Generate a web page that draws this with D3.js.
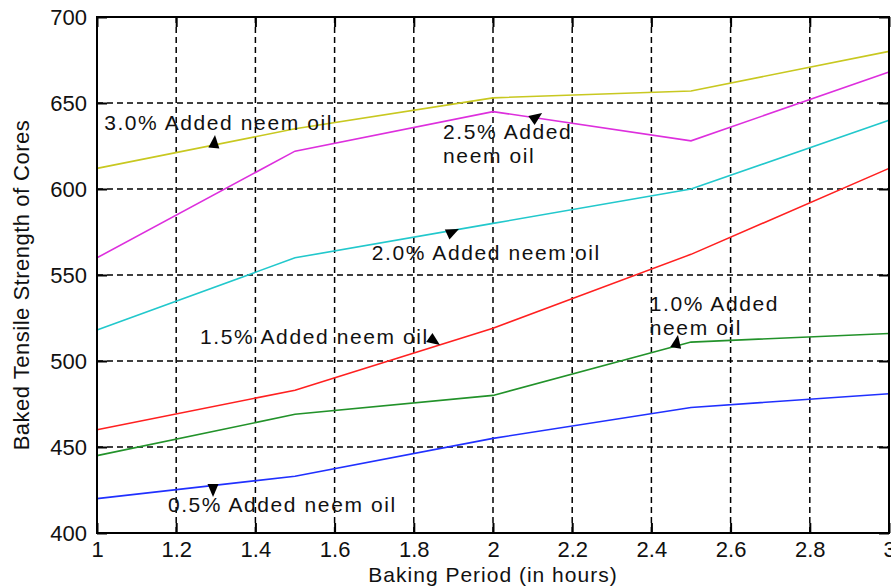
<!DOCTYPE html>
<html>
<head>
<meta charset="utf-8">
<script src="https://d3js.org/d3.v7.min.js"></script>
<style>
  body { margin: 0; background: #fff; }
  text { font-family: "Liberation Sans", Arial, sans-serif; fill: #111; }
</style>
</head>
<body>
<svg width="891" height="588"></svg>
<script>
// baking periods (hours)
const hours = [1, 1.5, 2, 2.5, 3];

// baked tensile strength for each neem oil percentage
const oil05 = [420, 433, 455, 473, 481];
const oil10 = [445, 469, 480, 511, 516];
const oil15 = [460, 483, 519, 562, 612];
const oil20 = [518, 560, 580, 600, 640];
const oil25 = [560, 622, 645, 628, 668];
const oil30 = [612, 635, 653, 657, 680];

const xTicks = [1, 1.2, 1.4, 1.6, 1.8, 2, 2.2, 2.4, 2.6, 2.8, 3];
const yTicks = [400, 450, 500, 550, 600, 650, 700];

// labels placed on the chart (data coordinates)
const notes = [
  {lines: ["3.0% Added neem oil"], tx: 1.018, ty: 634.3, ax: 1.298, ay: 631.4, ang: -85},
  {lines: ["2.5% Added", "neem oil"], tx: 1.874, ty: 629.1, ax: 2.124, ay: 644.2, ang: -35},
  {lines: ["2.0% Added neem oil"], tx: 1.694, ty: 558.7, ax: 1.914, ay: 576.7, ang: -25},
  {lines: ["1.5% Added neem oil"], tx: 1.26, ty: 509.9, ax: 1.866, ay: 509.3, ang: 35},
  {lines: ["1.0% Added", "neem oil"], tx: 2.396, ty: 529, ax: 2.467, ay: 515.1, ang: -80},
  {lines: ["0.5% Added neem oil"], tx: 1.179, ty: 412.2, ax: 1.293, ay: 420.9, ang: 90}
];

const svg = d3.select("svg");
const pL = 97, pT = 17, pR = 889, pB = 533;

var x = d3.scaleLinear().domain([1, 3]).range([pL, pR]);
var y = d3.scaleLinear().domain([400, 700]).range([pB, pT]);

// dashed grid
svg.append("g").selectAll("line").data(xTicks.slice(1, -1)).enter().append("line")
  .attr("x1", d => x(d)).attr("x2", d => x(d)).attr("y1", pT).attr("y2", pB)
  .attr("stroke", "#000").attr("stroke-width", 1.5).attr("stroke-dasharray", "6,4");
svg.append("g").selectAll("line").data(yTicks.slice(1, -1)).enter().append("line")
  .attr("y1", d => y(d)).attr("y2", d => y(d)).attr("x1", pL).attr("x2", pR)
  .attr("stroke", "#000").attr("stroke-width", 1.5).attr("stroke-dasharray", "6,4");

// series lines
const series = [
  {v: oil30, c: "#c8c820"},
  {v: oil25, c: "#dd2fdd"},
  {v: oil20, c: "#22c8cc"},
  {v: oil15, c: "#ff2020"},
  {v: oil10, c: "#22922a"},
  {v: oil05, c: "#2030ff"}
];
var line = d3.line().x((d, i) => x(hours[i])).y(d => y(d));
series.forEach(function(s) {
  svg.append("path").attr("d", line(s.v)).attr("fill", "none")
    .attr("stroke", s.c).attr("stroke-width", 1.6);
});

// axes: ticks inward on all four sides, box
svg.append("g").attr("transform", "translate(0," + pB + ")")
  .call(d3.axisBottom(x).tickValues(xTicks).tickSizeInner(-10).tickSizeOuter(0).tickPadding(8).tickFormat(d3.format("")))
  .call(g => g.select(".domain").remove());
svg.append("g").attr("transform", "translate(0," + pT + ")")
  .call(d3.axisTop(x).tickValues(xTicks).tickSizeInner(-10).tickSizeOuter(0).tickFormat(""))
  .call(g => g.select(".domain").remove());
svg.append("g").attr("transform", "translate(" + pL + ",0)")
  .call(d3.axisLeft(y).tickValues(yTicks).tickSizeInner(-10).tickSizeOuter(0).tickPadding(10))
  .call(g => g.select(".domain").remove());
svg.append("g").attr("transform", "translate(" + pR + ",0)")
  .call(d3.axisRight(y).tickValues(yTicks).tickSizeInner(-10).tickSizeOuter(0).tickFormat(""))
  .call(g => g.select(".domain").remove());
svg.selectAll(".tick line").attr("stroke", "#000").attr("stroke-width", 2);
svg.selectAll(".tick text").attr("font-size", 22).attr("font-family", "Liberation Sans, Arial, sans-serif").attr("fill", "#111");

svg.append("rect").attr("x", pL).attr("y", pT).attr("width", pR - pL).attr("height", pB - pT)
  .attr("fill", "none").attr("stroke", "#000").attr("stroke-width", 2);

// axis titles
svg.append("text").attr("x", (pL + pR) / 2).attr("y", 582).attr("text-anchor", "middle")
  .attr("font-size", 21).attr("letter-spacing", 1).text("Baking Period (in hours)");
svg.append("text").attr("transform", "translate(29,285) rotate(-90)").attr("text-anchor", "middle")
  .attr("font-size", 22).attr("letter-spacing", 0.5).text("Baked Tensile Strength of Cores");

// annotations with arrowheads
notes.forEach(function(n) {
  var t = svg.append("text").attr("x", x(n.tx)).attr("y", y(n.ty))
    .attr("font-size", 21).attr("letter-spacing", 1.6);
  n.lines.forEach(function(l, i) {
    t.append("tspan").attr("x", x(n.tx)).attr("dy", i == 0 ? 0 : 24).text(l);
  });
  svg.append("path").attr("d", "M0,0 L-13,-5.5 L-13,5.5 Z")
    .attr("transform", "translate(" + x(n.ax) + "," + y(n.ay) + ") rotate(" + n.ang + ")")
    .attr("fill", "#000");
});
</script>
</body>
</html>
